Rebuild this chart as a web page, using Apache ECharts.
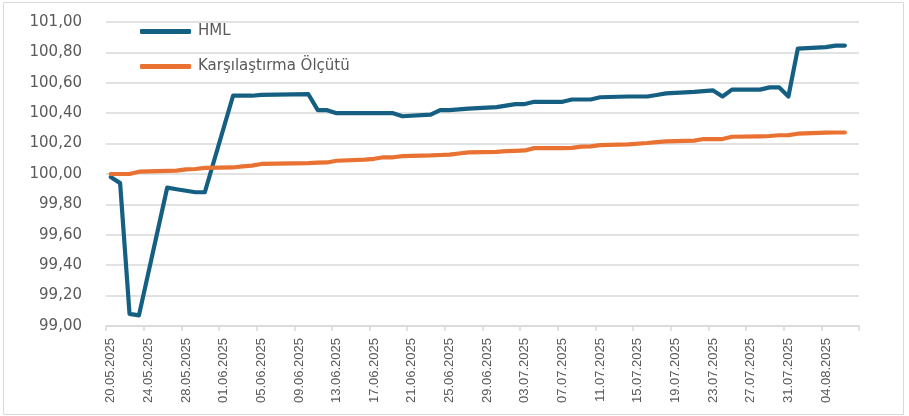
<!DOCTYPE html>
<html>
<head>
<meta charset="utf-8">
<script src="https://cdn.jsdelivr.net/npm/echarts@6/dist/echarts.min.js"></script>
<style>
  html, body { margin: 0; padding: 0; background: #ffffff; }
  #chart { width: 909px; height: 416px; }
</style>
</head>
<body>
<div id="chart"></div>
<script>
// Daily calendar axis; weekends and holidays carry no price (null) and the line bridges them.
const dates = [
  '20.05.2025','21.05.2025','22.05.2025','23.05.2025','24.05.2025','25.05.2025','26.05.2025','27.05.2025',
  '28.05.2025','29.05.2025','30.05.2025','31.05.2025','01.06.2025','02.06.2025','03.06.2025','04.06.2025',
  '05.06.2025','06.06.2025','07.06.2025','08.06.2025','09.06.2025','10.06.2025','11.06.2025','12.06.2025',
  '13.06.2025','14.06.2025','15.06.2025','16.06.2025','17.06.2025','18.06.2025','19.06.2025','20.06.2025',
  '21.06.2025','22.06.2025','23.06.2025','24.06.2025','25.06.2025','26.06.2025','27.06.2025','28.06.2025',
  '29.06.2025','30.06.2025','01.07.2025','02.07.2025','03.07.2025','04.07.2025','05.07.2025','06.07.2025',
  '07.07.2025','08.07.2025','09.07.2025','10.07.2025','11.07.2025','12.07.2025','13.07.2025','14.07.2025',
  '15.07.2025','16.07.2025','17.07.2025','18.07.2025','19.07.2025','20.07.2025','21.07.2025','22.07.2025',
  '23.07.2025','24.07.2025','25.07.2025','26.07.2025','27.07.2025','28.07.2025','29.07.2025','30.07.2025',
  '31.07.2025','01.08.2025','02.08.2025','03.08.2025','04.08.2025','05.08.2025','06.08.2025','07.08.2025'
];

const hml = [
  99.98, 99.94, 99.08, 99.07, null, null, 99.91, 99.90,
  99.89, 99.88, 99.88, null, null, 100.515, 100.515, 100.515,
  100.52, null, null, null, null, 100.525, 100.42, 100.42,
  100.40, null, null, 100.40, 100.40, 100.40, 100.40, 100.38,
  null, null, 100.39, 100.42, 100.42, 100.425, 100.43, null,
  null, 100.44, 100.45, 100.46, 100.46, 100.475, null, null,
  100.475, 100.49, 100.49, 100.49, 100.505, null, null, 100.51,
  null, 100.51, 100.52, 100.53, null, null, 100.54, 100.545,
  100.55, 100.51, 100.555, null, null, 100.555, 100.57, 100.57,
  100.51, 100.825, null, null, 100.835, 100.845, 100.845, null
];

const benchmark = [
  100.00, 100.00, 100.00, 100.015, null, null, 100.02, 100.022,
  100.03, 100.033, 100.04, null, null, 100.043, 100.05, 100.055,
  100.066, null, null, null, null, 100.072, 100.075, 100.076,
  100.087, null, null, 100.095, 100.10, 100.11, 100.11, 100.118,
  null, null, 100.122, 100.125, 100.127, 100.135, 100.142, null,
  null, 100.145, 100.15, 100.152, 100.155, 100.17, null, null,
  100.17, 100.172, 100.18, 100.182, 100.19, null, null, 100.195,
  null, 100.204, 100.21, 100.215, null, null, 100.22, 100.23,
  100.23, 100.23, 100.245, null, null, 100.248, 100.25, 100.255,
  100.256, 100.265, null, null, 100.272, 100.273, 100.273, null
];

const seriesNames = ['HML', 'Karşılaştırma Ölçütü'];
const seriesColors = ['#156082', '#E97132'];
const yMin = 99, yMax = 101, yStep = 0.2;

const chart = echarts.init(document.getElementById('chart'), null, { renderer: 'canvas' });

const lineSeries = (name, data, color) => ({
  name: name,
  type: 'line',
  data: data,
  connectNulls: true,
  showSymbol: false,
  symbol: 'none',
  smooth: false,
  animation: false,
  color: color,
  lineStyle: { color: color, width: 4.2, cap: 'round', join: 'round' }
});

chart.setOption({
  backgroundColor: '#ffffff',
  animation: false,
  graphic: [{
    type: 'rect',
    shape: { x: 3.5, y: 2.5, width: 900, height: 412 },
    style: { fill: 'none', stroke: '#d9d9d9', lineWidth: 1 },
    silent: true
  }],
  legend: {
    orient: 'vertical',
    left: 135,
    top: 19,
    itemWidth: 51,
    itemHeight: 5,
    itemGap: 20,
    icon: 'roundRect',
    textStyle: { fontFamily: 'DejaVu Sans', fontSize: 15, color: '#595959', padding: [0, 0, 0, 2] },
    data: seriesNames
  },
  grid: { left: 106, right: 50, top: 22, bottom: 90 },
  xAxis: {
    type: 'category',
    data: dates,
    boundaryGap: true,
    axisLine: { show: true, lineStyle: { color: '#d9d9d9', width: 1.5 } },
    axisTick: { show: true, interval: 3, length: 5, lineStyle: { color: '#d9d9d9', width: 1.5 } },
    axisLabel: {
      interval: 3,
      rotate: 90,
      margin: 12,
      fontFamily: 'Liberation Sans',
      fontSize: 13,
      color: '#595959'
    },
    splitLine: { show: false }
  },
  yAxis: {
    type: 'value',
    min: yMin,
    max: yMax,
    interval: yStep,
    axisLine: { show: false },
    axisTick: { show: false },
    axisLabel: {
      margin: 24,
      fontFamily: 'DejaVu Sans',
      fontSize: 15,
      color: '#595959',
      formatter: v => v.toFixed(2).replace('.', ',')
    },
    splitLine: { lineStyle: { color: '#d9d9d9', width: 1.5 } }
  },
  series: [
    lineSeries(seriesNames[0], hml, seriesColors[0]),
    lineSeries(seriesNames[1], benchmark, seriesColors[1])
  ]
});
</script>
</body>
</html>
